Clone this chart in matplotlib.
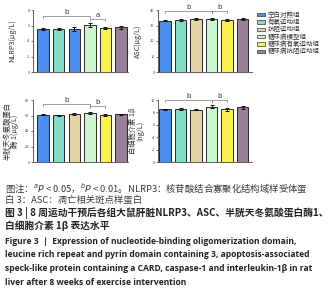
import matplotlib
matplotlib.use("Agg")
import matplotlib.pyplot as plt
import numpy as np

plt.rcParams['font.family'] = ['Noto Sans CJK SC', 'DejaVu Sans']

groups = ["空白对照组", "有氧运动组", "抗阻运动组", "糖尿病模型组", "糖尿病有氧运动组", "糖尿病抗阻运动组"]
colors = ["#4a8ff0", "#80dcc4", "#e4d4a4", "#ccf7d2", "#faf250", "#9a7f98"]
nlrp3_colors = ["#4a8ff0", "#80dcc4", "#4a8ff0", "#ccf7d2", "#faf250", "#9a7f98"]

nlrp3 = [5.55, 5.55, 5.55, 6.05, 5.65, 5.78]
nlrp3_err = [0.08, 0.08, 0.3, 0.3, 0.1, 0.22]
asc = [33.1, 33.7, 34.2, 34.4, 33.5, 34.0]
asc_err = [0.4, 0.5, 0.4, 0.6, 0.6, 0.6]
casp1 = [61.0, 60.3, 62.0, 63.2, 60.6, 61.5]
casp1_err = [0.8, 0.8, 0.8, 1.0, 0.8, 0.8]
il1b = [8.5, 8.55, 8.44, 8.92, 8.5, 8.82]
il1b_err = [0.1, 0.2, 0.1, 0.25, 0.2, 0.2]

W, H = 328, 300
fig = plt.figure(figsize=(W / 100, H / 100), dpi=100)

def ax_at(x0, y_top, x1, y_bot):
    return fig.add_axes([x0 / W, 1 - y_bot / H, (x1 - x0) / W, (y_bot - y_top) / H])

def panel(ax, vals, errs, cols, ymax, step, ylabel, brackets, xlim, lpad):
    x = np.arange(len(vals))
    ax.bar(x, vals, width=0.74, color=cols, edgecolor="#2a2a2a", linewidth=0.7,
           yerr=errs, error_kw=dict(ecolor="#111111", elinewidth=0.7, capsize=1.6, capthick=0.7))
    ax.set_ylim(0, ymax)
    ax.set_xlim(*xlim)
    ax.set_yticks(np.arange(0, ymax + step / 2, step))
    ax.set_xticks([])
    for s in ["top", "right"]:
        ax.spines[s].set_visible(False)
    for s in ["left", "bottom"]:
        ax.spines[s].set_linewidth(0.6)
        ax.spines[s].set_color("#444444")
    ax.tick_params(axis="y", labelsize=2.8, length=1.5, width=0.5, pad=1, colors="#444444")
    ax.set_ylabel(ylabel, fontsize=5.2, labelpad=lpad, color="#333333", linespacing=1.0)
    for (i, j, yb, lab) in brackets:
        h = ymax * 0.03
        ax.plot([i, i, j, j], [yb - h, yb, yb, yb - h], color="#777777", lw=0.5, clip_on=False)
        ax.text((i + j) / 2, yb + ymax * 0.015, lab, ha="center", va="bottom", fontsize=5,
                color="#333333", family="DejaVu Sans")

ax1 = ax_at(33, 10, 128, 72)
panel(ax1, nlrp3, nlrp3_err, nlrp3_colors, 8, 2, "NLRP3(μg/L)",
      [(0, 3, 7.2, "b"), (3, 4, 6.8, "a")], (-0.65, 5.45), 8)

ax2 = ax_at(158, 10, 252, 72)
panel(ax2, asc, asc_err, colors, 40, 10, "ASC(μg/L)",
      [(0, 3, 39.5, "b"), (3, 4, 39.5, "b")], (-0.45, 5.6), 6)

ax3 = ax_at(33, 100, 128, 162)
panel(ax3, casp1, casp1_err, colors, 80, 20, "半胱天冬氨酸蛋白\n酶 1(μg/L)",
      [(0, 3, 75, "b"), (3, 4, 72, "b")], (-0.65, 5.45), 4)

ax4 = ax_at(158, 100, 252, 162)
panel(ax4, il1b, il1b_err, colors, 10, 2, "白细胞介素 1β\n(ng/L)",
      [(0, 3, 10.0, "b"), (3, 4, 10.0, "b")], (-0.45, 5.6), 4)

# legend
for k, (g, c) in enumerate(zip(groups, colors)):
    yy = 14.5 + k * 7.4
    fig.patches.append(plt.Rectangle((257 / W, 1 - (yy + 1.6) / H), 8 / W, 3.2 / H,
                                     transform=fig.transFigure, facecolor=c,
                                     edgecolor="#333333", linewidth=0.5))
    fig.text(268 / W, 1 - yy / H, g, fontsize=4.7, va="center", ha="left", color="#333333")

cap_color = "#3a3a3a"
cn = 6.75
fig.text(5 / W, 1 - 188 / H, r"图注：$^{a}P$ < 0.05，$^{b}P$ < 0.01。NLRP3：核苷酸结合寡聚化结构域样受体蛋",
         fontsize=cn, va="center", ha="left", color=cap_color)
fig.text(5 / W, 1 - 200 / H, "白 3：ASC：凋亡相关斑点样蛋白",
         fontsize=cn, va="center", ha="left", color=cap_color)
fig.text(5 / W, 1 - 213 / H, "图 3 | 8 周运动干预后各组大鼠肝脏NLRP3、ASC、半胱天冬氨酸蛋白酶1、",
         fontsize=7.0, va="center", ha="left", color="#222222", fontweight="bold")
fig.text(5 / W, 1 - 226 / H, "白细胞介素 1β 表达水平",
         fontsize=7.0, va="center", ha="left", color="#222222", fontweight="bold")

en_lines = [
    "Figure 3  |  Expression of nucleotide-binding oligomerization domain,",
    "leucine rich repeat and pyrin domain containing 3, apoptosis-associated",
    "speck-like protein containing a CARD, caspase-1 and interleukin-1β in rat",
    "liver after 8 weeks of exercise intervention",
]
for k, line in enumerate(en_lines):
    fig.text(5 / W, 1 - (241 + k * 13.7) / H, line, fontsize=6.15, va="center", ha="left",
             color="#222222", fontweight="bold", family=["Open Sans", "DejaVu Sans"])

fig.savefig("out.png", dpi=100)
